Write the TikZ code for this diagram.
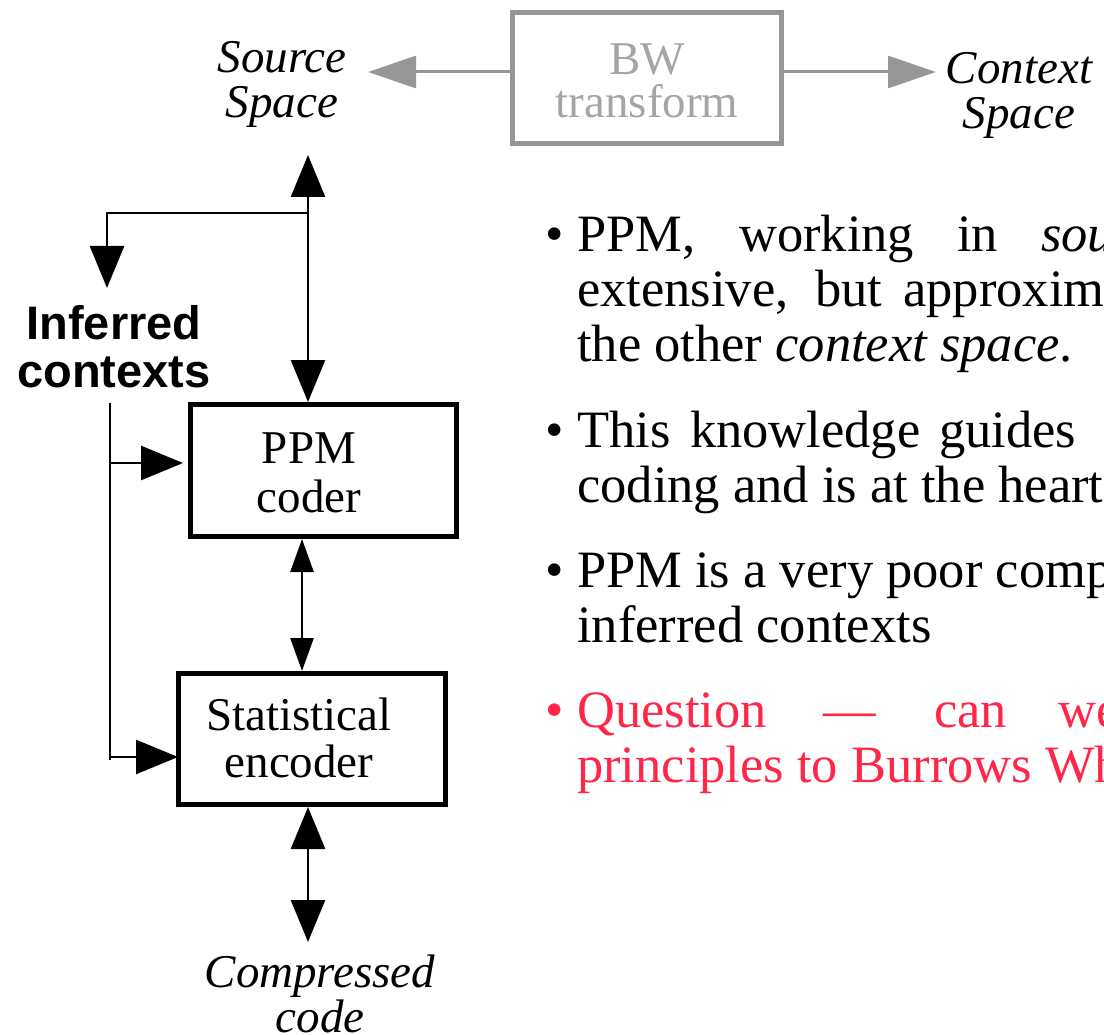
\documentclass[tikz,border=0pt]{standalone}
\usepackage{fontspec}
\setmainfont{Liberation Serif}
\newfontfamily\hsans{Liberation Sans}
\usetikzlibrary{arrows.meta}
\definecolor{qred}{RGB}{255,38,72}
\definecolor{bwgray}{RGB}{150,150,150}
\definecolor{bwtext}{RGB}{165,165,165}
\tikzset{
  lbl/.style={font=\fontsize{47}{45}\selectfont\itshape, align=center, inner sep=0pt, anchor=base},
  boxtxt/.style={font=\fontsize{47}{48}\selectfont, align=center, inner sep=0pt, anchor=base},
  blk/.style={draw=black, line width=5pt, inner sep=0pt},
  wire/.style={draw=black, line width=2.6pt},
  bigarr/.style={-{Triangle[length=42pt,width=34pt]}},
  bigboth/.style={{Triangle[length=42pt,width=34pt]}-{Triangle[length=42pt,width=34pt]}},
  smallboth/.style={{Triangle[length=33pt,width=23pt]}-{Triangle[length=33pt,width=23pt]}},
  grayarr/.style={draw=bwgray, line width=3pt, -{Triangle[length=48pt,width=32pt]}},
  btxt/.style={font=\fontsize{52.5}{55}\selectfont, anchor=base west, inner sep=0pt},
}
\begin{document}
\begin{tikzpicture}[x=1pt,y=-1pt]
\path[use as bounding box] (0,0) rectangle (1104,1035);
\clip (0,0) rectangle (1104,1035);

% top: BW transform (base anchor = baseline of the last line)
\node[draw=bwgray, line width=5pt, minimum width=268.5pt, minimum height=131.5pt, inner sep=0pt] (bw) at (646.75,78.25) {};
\node[font=\fontsize{47}{43}\selectfont, align=center, inner sep=0pt, anchor=base, text=bwtext] (bwt) at (647,118) {BW\\transform};
\node[lbl] (src) at (282,118) {Source\\Space};
\node[lbl] (ctx) at (1019,129) {Context\\Space};
\coordinate (srcTip) at (368,72);
\coordinate (ctxTip) at (936,72);
\draw[grayarr] (bw.west |- srcTip) -- (srcTip);
\draw[grayarr] (bw.east |- ctxTip) -- (ctxTip);

% left diagram
\node[blk, minimum width=266pt, minimum height=132pt] (ppm) at (323.5,470.5) {};
\node[boxtxt, font=\fontsize{47}{49}\selectfont] (ppmt) at (309,512) {PPM\\coder};
\node[blk, minimum width=267pt, minimum height=131pt] (stat) at (312,739) {};
\node[boxtxt, font=\fontsize{47}{47}\selectfont] (statt) at (299,777) {Statistical\\encoder};
\node[font=\hsans\bfseries\fontsize{47}{48}\selectfont, align=center, anchor=base, inner sep=0pt] (inf) at (114,388) {Inferred\\contexts};
\node[lbl] (comp) at (320,1032) {Compressed\\code};

\coordinate (srcIn) at (308,155);
\coordinate (branch) at (308,213);
\coordinate (infIn) at (107,288);
\coordinate (bus) at (110,403);
\coordinate (busEnd) at (110,760);
\coordinate (ppmIn) at (183,463);
\coordinate (statIn) at (178,757);
\coordinate (compIn) at (308,942);

\draw[wire, bigboth] (srcIn) -- (srcIn |- ppm.north);
\draw[wire, bigarr] (branch) -| (infIn);
\draw[wire] (bus) -- (busEnd);
\draw[wire, bigarr] (bus |- ppmIn) -- (ppmIn);
\draw[wire, bigarr] (bus |- statIn) -- (statIn);
\draw[wire, smallboth] (ppm.south -| 302,0) -- (stat.north -| 302,0);
\draw[wire, bigboth] (stat.south -| compIn) -- (compIn);

% bullets
\node[btxt] (d1) at (545,252) {•};
\node[btxt] (b1a) at (577,252) {\makebox[162pt][l]{PPM,}\makebox[218pt][l]{working}\makebox[84pt][l]{in}\textit{source}};
\node[btxt] (b1b) at (577,307) {\makebox[238pt][l]{extensive,}\makebox[88pt][l]{but}approximate};
\node[btxt] (b1c) at (577,362) {the other \textit{context space}.};

\node[btxt] (d2) at (545,447) {•};
\node[btxt] (b2a) at (577,447) {\makebox[113pt][l]{This}\makebox[249pt][l]{knowledge}guides};
\node[btxt] (b2b) at (577,502) {coding and is at the heart};

\node[btxt] (d3) at (545,587) {•};
\node[btxt] (b3a) at (577,587) {PPM is a very poor compressor};
\node[btxt] (b3b) at (577,642) {inferred contexts};

\node[btxt, text=qred] (d4) at (545,727) {•};
\node[btxt, text=qred] (b4a) at (577,727) {\makebox[246pt][l]{Question}\makebox[111pt][l]{—}\makebox[124pt][l]{can}we};
\node[btxt, text=qred] (b4b) at (577,782) {principles to Burrows Wheeler};
\end{tikzpicture}
\end{document}
